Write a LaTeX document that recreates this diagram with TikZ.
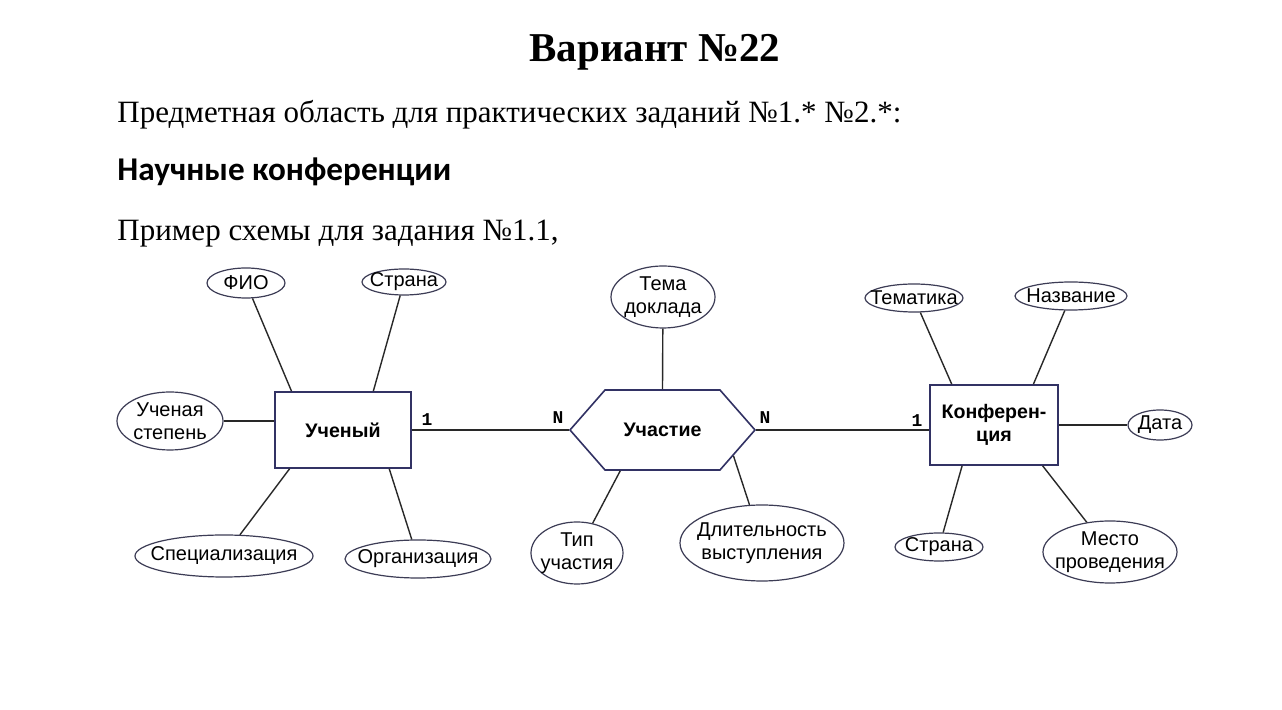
\documentclass[tikz,border=0pt]{standalone}
\usepackage{fontspec}
\setmainfont{Liberation Serif}
\newfontfamily\arialf{Liberation Sans}
\newfontfamily\calib{Carlito}
\newfontfamily\monof{Liberation Mono}
\usetikzlibrary{shapes.geometric,shapes.symbols}
\definecolor{entcol}{RGB}{50,50,100}
\definecolor{shapecol}{RGB}{60,60,85}
\definecolor{linecol}{RGB}{40,40,40}
\begin{document}
\begin{tikzpicture}[x=0.5pt,y=-0.5pt,
  attrtext/.style={inner sep=0pt, font=\arialf\fontsize{10}{11.5}\selectfont, align=center},
  attr/.style={ellipse, draw=shapecol, line width=0.6pt, inner sep=0pt},
  ent/.style={rectangle, draw=entcol, line width=0.8pt, inner sep=0pt, font=\arialf\bfseries\fontsize{9.8}{11.5}\selectfont, align=center},
  link/.style={draw=linecol, line width=0.7pt},
  card/.style={font=\monof\bfseries\fontsize{9}{10}\selectfont, inner sep=0pt}
]
\useasboundingbox[fill=white] (0,0) rectangle (1282,710);

% texts
\node[anchor=base, font=\bfseries\fontsize{20.5}{24}\selectfont] (title) at (655,62) {Вариант №22};
\node[anchor=base west, font=\fontsize{15.5}{18}\selectfont, inner sep=0pt] (t1) at (117,123) {Предметная область для практических заданий №1.* №2.*:};
\node[anchor=base west, font=\calib\bfseries\fontsize{16.6}{19}\selectfont, inner sep=0pt] (t2) at (117,181) {Научные конференции};
\node[anchor=base west, font=\fontsize{15.5}{18}\selectfont, inner sep=0pt] (t3) at (117,241) {Пример схемы для задания №1.1,};

% entities
\node[ent, minimum width=68pt, minimum height=38pt] (uch) at (343,430) {Ученый};
\node[ent, minimum width=64pt, minimum height=40pt] (conf) at (994,425) {Конферен-\\ция};
\node[signal, signal to=west and east, signal pointer angle=97.6, draw=entcol, line width=0.8pt,
      minimum width=92.5pt, minimum height=40pt, inner sep=0pt,
      font=\arialf\bfseries\fontsize{9.8}{11.5}\selectfont] (part) at (662.5,430) {Участие};

% attributes (ellipse outline sized as in the reference, text centred on it)
\node[attr, minimum width=39pt, minimum height=15pt, label={[attrtext]center:ФИО}] (fio) at (246,283) {};
\node[attr, minimum width=42pt, minimum height=13pt, label={[attrtext]center:Страна}] (strana1) at (404,282) {};
\node[attr, minimum width=53pt, minimum height=29pt, label={[attrtext]center:{Ученая\\степень}}] (stepen) at (170,421) {};
\node[attr, minimum width=89pt, minimum height=21pt, label={[attrtext]center:Специализация}] (spec) at (224,556) {};
\node[attr, minimum width=73pt, minimum height=19pt, label={[attrtext]center:Организация}] (org) at (418,559) {};
\node[attr, minimum width=52pt, minimum height=31pt, label={[attrtext]center:{Тема\\доклада}}] (tema) at (663,297) {};
\node[attr, minimum width=46pt, minimum height=31pt, label={[attrtext]center:{Тип\\участия}}] (tip) at (577,553) {};
\node[attr, minimum width=82pt, minimum height=38pt, label={[attrtext]center:{Длительность\\выступления}}] (dlit) at (762,543) {};
\node[attr, minimum width=49pt, minimum height=14pt, label={[attrtext]center:Тематика}] (temat) at (914,298) {};
\node[attr, minimum width=56pt, minimum height=14pt, label={[attrtext]center:Название}] (nazv) at (1071,296) {};
\node[attr, minimum width=32pt, minimum height=15pt, label={[attrtext]center:Дата}] (data) at (1160,425) {};
\node[attr, minimum width=44pt, minimum height=14pt, label={[attrtext]center:Страна}] (strana2) at (939,547) {};
\node[attr, minimum width=67pt, minimum height=31pt, label={[attrtext]center:{Место\\проведения}}] (mesto) at (1110,552) {};

% cardinalities
\node[card] (c1) at (427,420) {1};
\node[card] (c2) at (558,418) {N};
\node[card] (c3) at (765,418) {N};
\node[card] (c4) at (917,421) {1};

% connectors
\draw[link] (fio) -- (uch.143);
\draw[link] (strana1) -- (uch.52);
\draw[link] (stepen.east) -- (stepen.east -| uch.west);
\draw[link] (spec) -- (uch.216);
\draw[link] (org) -- (uch.320);
\draw[link] (uch.east) -- (part.west);
\draw[link] (tema) -- (part.north);
\draw[link] (tip) -- (part.224);
\draw[link] (dlit) -- (part.340);
\draw[link] (part.east) -- (part.east -| conf.west);
\draw[link] (temat) -- (conf.136);
\draw[link] (nazv) -- (conf.46);
\draw[link] (conf.east) -- (data.west);
\draw[link] (strana2) -- (conf.232);
\draw[link] (mesto) -- (conf.320);
\end{tikzpicture}
\end{document}
